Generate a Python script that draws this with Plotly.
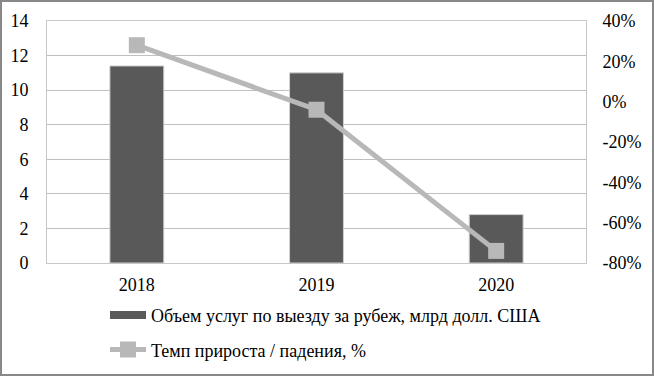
import plotly.graph_objects as go

years = ["2018", "2019", "2020"]
volume = [11.4, 11.0, 2.8]
growth = [28, -4, -74]
y_ticks = [0, 2, 4, 6, 8, 10, 12, 14]
y2_ticks = [-80, -60, -40, -20, 0, 20, 40]
y2_labels = ["-80%", "-60%", "-40%", "-20%", "0%", "20%", "40%"]
bar_name = "Объем услуг по выезду за рубеж, млрд долл. США"
line_name = "Темп прироста / падения, %"

L, R, T, B = 47, 68, 21, 113
W, H = 654, 376
pw, ph = W - L - R, H - T - B
BAR_C = "#595959"
LINE_C = "#b8b8b8"

fig = go.Figure()
fig.add_trace(go.Bar(x=years, y=volume, name=bar_name, width=0.3, showlegend=False,
                     marker=dict(color=BAR_C, line=dict(color="#d0d0d0", width=1))))
# legend entry styled like the wide bar swatch of the original
fig.add_trace(go.Scatter(x=[None], y=[None], name=bar_name, mode="lines", legendgroup="a",
                         line=dict(color=BAR_C, width=8)))
fig.add_trace(go.Scatter(x=years, y=growth, name=line_name, yaxis="y2", mode="lines+markers",
                         legendgroup="b",
                         line=dict(color=LINE_C, width=5),
                         marker=dict(symbol="square", size=16, color=LINE_C)))

FAM = "Liberation Serif, Times New Roman, serif"
def f(s=18):
    return dict(family=FAM, size=s, color="#000")

fig.update_layout(
    width=W, height=H, margin=dict(l=L, r=R, t=T, b=B, autoexpand=False),
    paper_bgcolor="white", plot_bgcolor="white", font=f(),
    showlegend=True,
    legend=dict(x=(105 - L) / pw, y=-0.14, xanchor="left", yanchor="top",
                orientation="v", font=f(), tracegroupgap=8, itemwidth=36,
                bgcolor="rgba(0,0,0,0)"),
    xaxis=dict(showgrid=False, showline=True, linecolor="#c8c8c8", mirror=True,
               ticks="outside", ticklen=5, tickcolor="white", automargin=False,
               tickfont=f()),
    yaxis=dict(range=[0, 14], tickvals=y_ticks, showgrid=True, gridcolor="#c0c0c0",
               showline=True, linecolor="#c8c8c8", mirror=True, zeroline=False,
               ticks="outside", ticklen=14, tickcolor="white", automargin=False,
               tickfont=f()),
    yaxis2=dict(range=[-80, 40], tickvals=y2_ticks, ticktext=y2_labels, overlaying="y",
                side="right", showgrid=False, zeroline=False, showline=False,
                ticks="outside", ticklen=12, tickcolor="white", automargin=False,
                tickfont=f()),
    shapes=[dict(type="rect", xref="paper", yref="paper",
                 x0=-(L - 1) / pw, x1=1 + (R - 1) / pw,
                 y0=-(B - 1) / ph, y1=1 + (T - 1) / ph,
                 line=dict(color="#888", width=2))],
)
fig.write_html("out.html", config={"displayModeBar": False},
               post_script="document.body.style.margin='0';document.body.style.overflow='hidden';")
